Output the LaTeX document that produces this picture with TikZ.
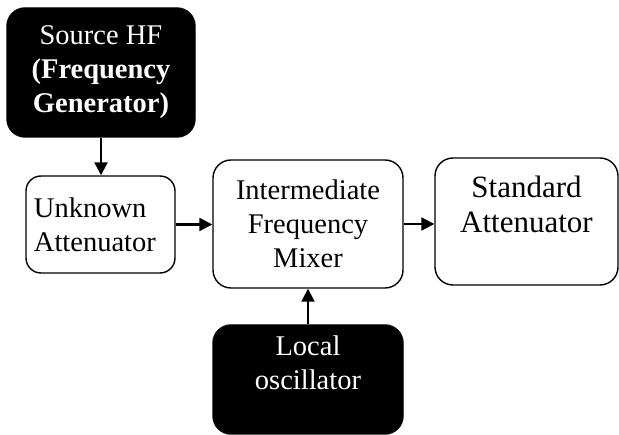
\documentclass[tikz,border=0pt]{standalone}
\usepackage{fontspec}
\setmainfont{Liberation Serif}
\usetikzlibrary{arrows.meta}

\begin{document}
\begin{tikzpicture}[x=1pt,y=-1pt,
	blk/.style={draw,line width=1.4pt,rounded corners=18pt,align=center,
		font=\fontsize{28.5}{34}\selectfont,inner sep=0pt},
	dark/.style={blk,fill=black,text=white},
	flow/.style={line width=2.2pt,-{Triangle[length=13pt,width=13pt]}}]
%	\draw[help lines] (0,0)grid[step=50](619,435);
	\useasboundingbox (0,0) rectangle (619,435);

	\node[dark,minimum width=188pt,minimum height=129pt] (src) at (101,72.5)
		{Source HF\\\textbf{(Frequency}\\\textbf{Generator)}};
	\node[blk,minimum width=149pt,minimum height=97pt,rounded corners=15pt,
		text width=133pt,align=left] (unk) at (100.5,224.5) {Unknown\\Attenuator};
	\node[blk,minimum width=190pt,minimum height=128pt] (mix) at (308,224)
		{Intermediate\\Frequency\\Mixer};
	\node[blk,minimum width=183pt,minimum height=127pt,
		font=\fontsize{31}{35}\selectfont] (std) at (526.5,221.5)
		{Standard\\Attenuator\\~};
	\node[dark,minimum width=190pt,minimum height=109pt] (loc) at (308,379.5)
		{Local\\oscillator\\~};

	%links
	\draw[flow] (src.south) -- (src.south |- unk.north);
	\draw[flow] (unk.east) -- (unk.east -| mix.west);
	\draw[flow] (mix.east) -- (mix.east -| std.west);
	\draw[flow] (loc.north) -- (mix.south);

\end{tikzpicture}
\end{document}
